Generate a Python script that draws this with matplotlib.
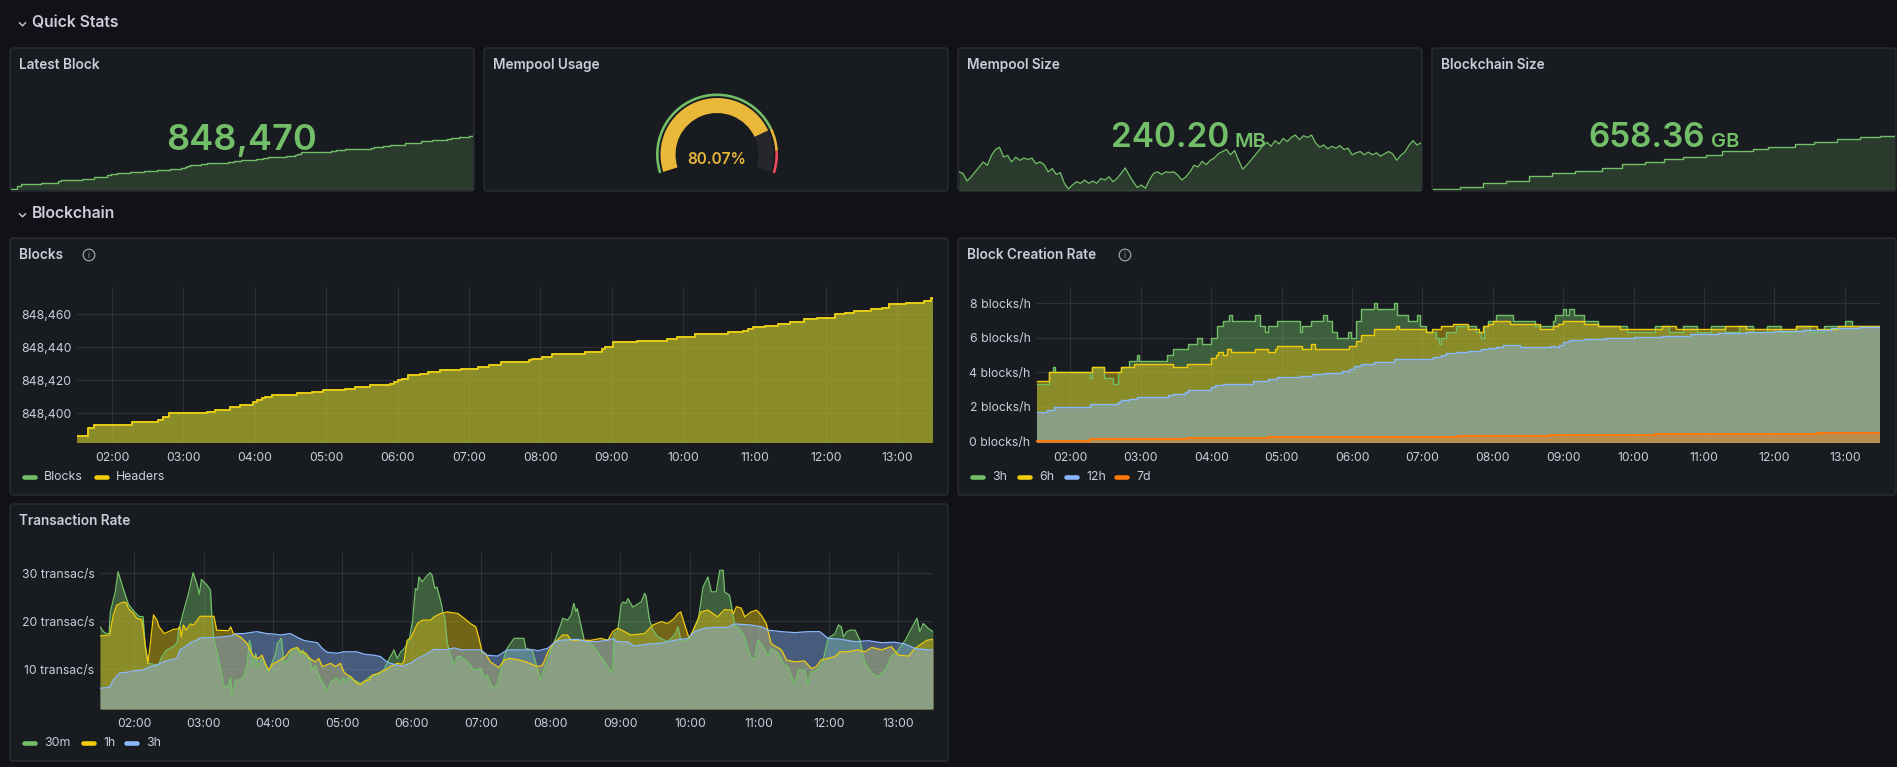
import numpy as np
import matplotlib
matplotlib.use('Agg')
import matplotlib.pyplot as plt
from matplotlib.patches import FancyBboxPatch, Wedge, Circle

W, H = 1897, 767
BG = '#111217'
PANEL = '#181b1f'
BORDER = '#2b2e34'
TEXT = '#ccccdc'
GRID = '#2e3036'
GREEN = '#73BF69'
YELLOW = '#F2CC0C'
BLUE = '#8AB8FF'
ORANGE = '#FF780A'
GAUGE_YELLOW = '#EAB839'
RED = '#F2495C'
FILL_ALPHA = 0.42

plt.rcParams['font.family'] = ['Inter', 'DejaVu Sans']

# ---- data (hours of day) ----
hours = list(range(2, 14))
hour_labels = ['%02d:00' % h for h in hours]

block_t = [1.50, 1.66, 1.75, 2.28, 2.64, 2.71, 2.80, 3.33, 3.44, 3.66, 3.79, 3.98, 4.03, 4.10, 4.15, 4.24,
           4.59, 4.80, 4.95, 5.27, 5.41, 5.61, 5.90, 5.95, 6.00, 6.06, 6.14, 6.32, 6.43, 6.59, 6.89, 7.13,
           7.28, 7.45, 7.84, 7.89, 8.02, 8.16, 8.62, 8.86, 8.90, 9.02, 9.36, 9.78, 9.92, 10.16, 10.63, 10.84,
           10.91, 10.98, 11.14, 11.33, 11.50, 11.70, 11.87, 12.13, 12.27, 12.40, 12.63, 12.79, 12.89, 13.12,
           13.37, 13.47]
block_height = [848386, 848391, 848393, 848395, 848396, 848398, 848400, 848401, 848402, 848404, 848405,
                848407, 848408, 848409, 848410, 848411, 848412, 848413, 848414, 848415, 848416, 848417,
                848418, 848419, 848420, 848421, 848423, 848424, 848425, 848426, 848427, 848428, 848429,
                848431, 848432, 848433, 848434, 848436, 848437, 848439, 848440, 848443, 848444, 848445,
                848446, 848448, 848449, 848450, 848451, 848452, 848453, 848454, 848455, 848457, 848458,
                848460, 848461, 848462, 848463, 848464, 848466, 848467, 848468, 848470]
header_height = list(block_height)

mempool_mb = [222.6, 221.6, 217.0, 219.6, 222.6, 225.6, 228.6, 226.6, 232.6, 236.2, 237.6, 231.6, 232.6,
              228.6, 231.6, 229.6, 231.0, 230.2, 231.0, 227.6, 228.6, 227.0, 222.6, 224.6, 221.0, 222.2,
              215.6, 212.2, 214.6, 216.6, 215.6, 217.6, 215.6, 217.0, 215.6, 218.6, 217.6, 219.6, 216.6,
              218.6, 221.6, 225.0, 220.6, 216.6, 213.0, 214.6, 212.6, 217.6, 221.6, 222.6, 221.0, 222.6,
              222.2, 222.6, 220.6, 217.6, 219.6, 222.6, 226.6, 225.6, 229.0, 227.0, 229.6, 231.0, 233.6,
              235.0, 236.2, 233.0, 235.6, 229.6, 224.2, 226.6, 229.6, 232.6, 235.6, 238.6, 240.6, 238.2,
              241.6, 239.6, 243.0, 241.0, 243.6, 245.0, 242.2, 244.6, 243.6, 245.0, 240.2, 237.6, 239.0,
              236.6, 238.2, 237.0, 238.6, 236.2, 237.0, 233.0, 234.2, 235.0, 233.0, 234.6, 233.0, 234.2,
              232.2, 233.6, 235.0, 233.6, 229.6, 232.6, 234.6, 238.6, 241.6, 239.0, 240.2]

chain_t = [1.5, 2.2, 2.8, 3.4, 4.0, 4.6, 5.2, 5.9, 6.4, 7.0, 7.5, 8.0, 8.6, 9.0, 9.8, 10.2, 10.9, 11.4,
           12.0, 12.6, 13.1, 13.5]
chain_gb = [658.245, 658.250, 658.258, 658.262, 658.272, 658.278, 658.283, 658.290, 658.298, 658.302,
            658.308, 658.313, 658.318, 658.326, 658.330, 658.335, 658.342, 658.346, 658.351, 658.355,
            658.358, 658.360]

mempool_usage = 80.07
usage_thresholds = [80, 90]

rate_3h = [(1.52, 3.33), (1.66, 3.33), (1.70, 4.0), (1.75, 4.33), (1.78, 4.0), (2.26, 4.0), (2.28, 3.67),
           (2.30, 4.33), (2.44, 4.33), (2.47, 3.67), (2.61, 3.33), (2.64, 3.33), (2.68, 4.0), (2.72, 4.33),
           (2.83, 4.67), (2.93, 4.67), (2.95, 5.0), (2.98, 4.67), (3.37, 5.0), (3.46, 5.33), (3.65, 5.33),
           (3.67, 5.67), (3.80, 6.0), (3.87, 5.67), (3.99, 6.0), (4.08, 6.67), (4.16, 7.0), (4.25, 7.33),
           (4.30, 7.0), (4.59, 7.0), (4.62, 7.33), (4.69, 6.67), (4.76, 6.33), (4.80, 6.67), (4.94, 7.0),
           (5.22, 7.0), (5.26, 6.33), (5.29, 6.67), (5.42, 7.0), (5.59, 7.33), (5.64, 7.0), (5.71, 6.33),
           (5.78, 6.0), (5.91, 6.0), (5.94, 6.33), (5.99, 6.0), (6.05, 7.0), (6.13, 7.67), (6.31, 8.0),
           (6.35, 7.67), (6.59, 8.0), (6.64, 7.33), (6.77, 7.33), (6.80, 7.0), (6.92, 7.33), (6.97, 6.67),
           (7.05, 6.33), (7.19, 6.0), (7.23, 5.67), (7.26, 6.0), (7.33, 6.33), (7.47, 6.67), (7.61, 6.67),
           (7.76, 6.33), (7.83, 6.0), (7.88, 6.67), (7.93, 7.0), (8.04, 7.33), (8.25, 7.33), (8.29, 7.0),
           (8.57, 7.0), (8.60, 6.67), (8.85, 7.0), (8.89, 7.33), (8.99, 7.67), (9.04, 7.33), (9.08, 7.67),
           (9.15, 7.33), (9.30, 7.0), (9.50, 6.67), (9.70, 6.67), (9.90, 6.33), (10.10, 6.33), (10.30, 6.67),
           (10.50, 6.33), (10.70, 6.67), (10.90, 6.33), (11.10, 6.67), (11.30, 6.33), (11.50, 6.67),
           (11.70, 6.33), (11.90, 6.67), (12.10, 6.33), (12.30, 6.67), (12.50, 6.33), (12.70, 6.67),
           (13.00, 7.0), (13.10, 6.67), (13.50, 6.67)]
rate_6h = [(1.52, 3.5), (1.70, 4.0), (2.30, 4.33), (2.44, 4.33), (2.47, 4.0), (2.72, 4.33), (2.90, 4.5),
           (3.39, 4.5), (3.45, 4.33), (3.65, 4.5), (4.00, 4.83), (4.07, 5.0), (4.09, 5.17), (4.16, 5.0),
           (4.22, 5.33), (4.28, 5.17), (4.62, 5.33), (4.80, 5.17), (4.90, 5.33), (4.94, 5.5), (5.29, 5.33),
           (5.42, 5.67), (5.47, 5.33), (5.96, 5.5), (6.05, 5.83), (6.13, 6.17), (6.31, 6.5), (6.62, 6.67),
           (6.67, 6.5), (7.05, 6.33), (7.14, 6.5), (7.26, 6.67), (7.43, 6.83), (7.64, 6.5), (7.80, 6.33),
           (7.86, 6.67), (7.93, 6.83), (8.00, 7.0), (8.25, 6.83), (8.67, 6.5), (8.85, 6.67), (8.92, 6.83),
           (9.00, 7.0), (9.30, 6.83), (9.50, 6.67), (9.80, 6.5), (10.40, 6.67), (10.60, 6.5), (11.30, 6.67),
           (11.60, 6.5), (12.30, 6.67), (12.60, 6.5), (12.90, 6.67), (13.50, 6.67)]
rate_12h = [(1.52, 1.71), (1.66, 1.81), (1.77, 1.96), (2.28, 2.15), (2.68, 2.25), (2.72, 2.39), (2.83, 2.48),
            (2.95, 2.55), (3.39, 2.68), (3.46, 2.75), (3.62, 2.83), (3.67, 2.97), (3.80, 3.0), (3.99, 3.12),
            (4.06, 3.25), (4.16, 3.35), (4.59, 3.49), (4.80, 3.59), (4.94, 3.7), (5.26, 3.78), (5.43, 3.9),
            (5.61, 3.97), (5.85, 4.07), (5.96, 4.22), (6.03, 4.36), (6.13, 4.46), (6.31, 4.61), (6.59, 4.75),
            (6.97, 4.8), (7.15, 4.9), (7.26, 5.0), (7.33, 5.1), (7.47, 5.19), (7.64, 5.25), (7.83, 5.33),
            (7.93, 5.43), (8.04, 5.48), (8.14, 5.58), (8.39, 5.45), (8.82, 5.5), (8.89, 5.45), (8.94, 5.58),
            (8.99, 5.77), (9.08, 5.87), (9.30, 5.92), (9.60, 5.97), (10.0, 6.05), (10.4, 6.12), (10.8, 6.2),
            (11.2, 6.3), (11.6, 6.35), (12.0, 6.4), (12.4, 6.45), (12.8, 6.55), (13.2, 6.62), (13.5, 6.7)]
rate_7d = [(1.52, 0.03), (2.28, 0.11), (3.65, 0.17), (4.80, 0.23), (6.15, 0.26), (7.50, 0.3), (8.80, 0.35),
           (10.30, 0.4), (11.40, 0.45), (12.60, 0.5), (13.50, 0.5)]

tx_30m = [(1.51, 18.8), (1.56, 17.8), (1.60, 17.4), (1.64, 17.4), (1.66, 22.0), (1.73, 26.1), (1.77, 30.3),
          (1.80, 28.9), (1.85, 26.5), (1.92, 23.5), (2.00, 22.0), (2.07, 21.0), (2.13, 20.9), (2.16, 15.0),
          (2.20, 11.2), (2.35, 10.8), (2.40, 12.6), (2.47, 14.0), (2.57, 14.7), (2.62, 15.5), (2.64, 18.0),
          (2.71, 21.9), (2.79, 26.1), (2.85, 30.1), (2.90, 28.0), (2.94, 25.6), (2.97, 28.7), (3.05, 27.5),
          (3.10, 26.5), (3.12, 20.8), (3.15, 16.0), (3.19, 14.0), (3.29, 6.7), (3.34, 6.0), (3.39, 8.1),
          (3.41, 4.6), (3.46, 7.7), (3.53, 7.7), (3.58, 8.4), (3.63, 11.2), (3.66, 16.0), (3.68, 15.0),
          (3.71, 10.5), (3.75, 13.3), (3.79, 10.5), (3.83, 12.2), (3.87, 11.5), (3.94, 9.4), (3.99, 11.5),
          (4.04, 13.3), (4.06, 15.3), (4.12, 16.4), (4.15, 12.2), (4.18, 11.2), (4.23, 12.2), (4.26, 13.6),
          (4.31, 14.0), (4.35, 14.3), (4.40, 12.9), (4.43, 14.0), (4.47, 12.6), (4.53, 12.2), (4.56, 9.8),
          (4.61, 10.8), (4.64, 9.4), (4.68, 8.1), (4.72, 7.0), (4.76, 6.0), (4.78, 5.3), (4.84, 7.4),
          (4.92, 8.1), (4.95, 7.2), (5.01, 8.1), (5.05, 7.4), (5.09, 8.4), (5.14, 7.7), (5.21, 7.4),
          (5.26, 7.0), (5.31, 7.4), (5.38, 8.3), (5.43, 8.6), (5.50, 8.75), (5.55, 9.1), (5.60, 9.9),
          (5.65, 11.5), (5.70, 12.9), (5.72, 13.3), (5.74, 14.0), (5.79, 12.2), (5.84, 13.6), (5.89, 14.3),
          (5.96, 16.0), (6.01, 20.2), (6.05, 26.8), (6.08, 26.5), (6.10, 29.2), (6.15, 28.2), (6.20, 29.2),
          (6.26, 30.1), (6.29, 29.6), (6.33, 26.8), (6.36, 27.1), (6.42, 23.8), (6.45, 21.5), (6.47, 21.0),
          (6.51, 15.3), (6.56, 12.6), (6.61, 10.8), (6.65, 12.6), (6.70, 12.6), (6.80, 11.5), (6.89, 9.8),
          (6.99, 10.1), (7.04, 8.4), (7.08, 8.8), (7.13, 7.0), (7.18, 5.8), (7.23, 7.0), (7.33, 12.6),
          (7.37, 14.3), (7.47, 16.4), (7.61, 16.4), (7.64, 14.3), (7.73, 14.0), (7.78, 11.5), (7.82, 9.1),
          (7.85, 7.7), (7.90, 9.8), (7.97, 12.6), (8.05, 15.7), (8.14, 19.2), (8.17, 20.6), (8.24, 20.2),
          (8.29, 21.2), (8.33, 23.7), (8.36, 22.0), (8.38, 22.6), (8.46, 17.4), (8.48, 16.0), (8.53, 15.7),
          (8.60, 15.0), (8.72, 12.6), (8.82, 10.5), (8.89, 9.1), (8.91, 17.4), (8.96, 17.8), (9.01, 23.3),
          (9.04, 24.0), (9.08, 23.7), (9.11, 24.7), (9.18, 22.9), (9.30, 24.0), (9.35, 25.8), (9.37, 25.2),
          (9.42, 20.2), (9.47, 18.1), (9.54, 16.7), (9.68, 15.7), (9.78, 17.1), (9.83, 18.8), (9.87, 16.0),
          (9.97, 16.0), (10.02, 17.1), (10.07, 18.8), (10.12, 20.2), (10.19, 27.1), (10.26, 29.2),
          (10.31, 26.1), (10.38, 26.1), (10.43, 30.6), (10.48, 30.6), (10.50, 26.1), (10.57, 25.4),
          (10.61, 22.3), (10.65, 18.8), (10.69, 18.8), (10.79, 16.7), (10.84, 13.9), (10.88, 12.5),
          (10.93, 11.9), (10.98, 16.0), (11.03, 15.3), (11.13, 12.6), (11.17, 14.3), (11.27, 13.3),
          (11.34, 11.2), (11.41, 10.5), (11.51, 6.7), (11.56, 9.8), (11.65, 9.8), (11.70, 6.7), (11.75, 9.5),
          (11.80, 9.5), (11.87, 10.5), (11.92, 11.9), (11.99, 16.4), (12.09, 17.4), (12.14, 19.2),
          (12.18, 18.8), (12.21, 16.7), (12.26, 17.8), (12.30, 18.1), (12.38, 18.1), (12.45, 16.0),
          (12.52, 11.2), (12.62, 9.1), (12.71, 8.4), (12.81, 9.8), (12.90, 12.6), (13.00, 14.0),
          (13.10, 16.0), (13.19, 18.5), (13.27, 20.6), (13.31, 17.8), (13.36, 19.5), (13.43, 18.5),
          (13.50, 17.8)]
tx_1h = [(1.51, 16.9), (1.65, 17.1), (1.70, 21.2), (1.75, 23.3), (1.85, 24.0), (1.89, 23.8), (1.92, 22.6),
         (1.99, 21.6), (2.04, 20.6), (2.11, 20.3), (2.13, 18.5), (2.16, 15.0), (2.20, 11.2), (2.24, 16.0),
         (2.28, 21.3), (2.33, 20.2), (2.36, 18.8), (2.40, 18.1), (2.43, 17.4), (2.50, 17.8), (2.57, 18.3),
         (2.62, 18.3), (2.66, 18.8), (2.68, 16.7), (2.71, 19.2), (2.75, 18.1), (2.81, 19.4), (2.86, 19.2),
         (2.95, 21.0), (3.00, 21.0), (3.15, 21.0), (3.19, 18.1), (3.36, 18.0), (3.39, 18.8), (3.43, 17.4),
         (3.48, 17.1), (3.53, 16.7), (3.58, 16.0), (3.63, 15.3), (3.67, 14.0), (3.72, 12.6), (3.79, 12.2),
         (3.84, 12.9), (3.91, 10.5), (3.94, 9.8), (3.99, 11.0), (4.06, 11.5), (4.13, 12.2), (4.18, 12.6),
         (4.25, 14.0), (4.30, 14.3), (4.35, 14.5), (4.40, 13.6), (4.47, 13.3), (4.53, 12.2), (4.56, 11.9),
         (4.61, 11.5), (4.66, 12.2), (4.71, 10.5), (4.76, 10.8), (4.83, 11.2), (4.90, 10.5), (4.97, 11.2),
         (5.02, 9.4), (5.07, 8.75), (5.12, 8.4), (5.21, 7.0), (5.26, 6.7), (5.31, 7.4), (5.38, 7.7),
         (5.43, 8.75), (5.50, 9.0), (5.55, 9.4), (5.62, 9.8), (5.69, 10.5), (5.79, 11.2), (5.86, 11.0),
         (5.89, 11.9), (5.93, 16.0), (5.98, 16.4), (6.08, 19.5), (6.15, 20.2), (6.27, 20.2), (6.32, 20.9),
         (6.42, 21.6), (6.51, 21.9), (6.66, 21.6), (6.75, 20.6), (6.84, 19.5), (6.92, 18.8), (6.96, 16.7),
         (7.01, 13.6), (7.06, 13.2), (7.13, 11.5), (7.25, 10.3), (7.33, 11.9), (7.40, 12.2), (7.54, 11.9),
         (7.64, 11.5), (7.81, 10.5), (7.88, 10.8), (7.96, 13.6), (8.05, 15.7), (8.09, 16.0), (8.17, 17.1),
         (8.24, 17.1), (8.29, 16.0), (8.43, 16.0), (8.58, 16.0), (8.72, 16.4), (8.82, 16.0), (8.89, 17.8),
         (8.96, 18.5), (9.06, 17.8), (9.15, 17.1), (9.35, 17.4), (9.47, 19.2), (9.59, 19.9), (9.68, 19.5),
         (9.78, 20.6), (9.83, 21.6), (9.87, 21.9), (9.92, 19.5), (9.99, 16.4), (10.04, 17.8), (10.16, 21.9),
         (10.26, 22.3), (10.40, 20.9), (10.50, 22.4), (10.60, 22.3), (10.63, 21.6), (10.67, 23.0),
         (10.74, 22.7), (10.79, 20.9), (10.88, 21.9), (10.96, 22.3), (11.03, 21.2), (11.10, 19.5),
         (11.17, 15.3), (11.32, 14.0), (11.39, 11.9), (11.51, 11.5), (11.65, 11.7), (11.75, 10.1),
         (11.82, 10.5), (11.89, 11.9), (11.99, 12.2), (12.09, 12.6), (12.16, 13.6), (12.28, 13.6),
         (12.42, 14.0), (12.52, 13.6), (12.62, 14.5), (12.76, 14.0), (12.90, 14.7), (13.00, 12.9),
         (13.15, 12.7), (13.24, 14.3), (13.41, 16.0), (13.50, 16.2)]
tx_3h = [(1.51, 6.0), (1.65, 6.2), (1.70, 7.7), (1.75, 8.5), (1.80, 9.2), (1.94, 9.4), (2.00, 9.65),
         (2.13, 9.8), (2.23, 10.5), (2.33, 10.8), (2.42, 11.5), (2.52, 11.9), (2.62, 12.2), (2.66, 14.0),
         (2.74, 14.7), (2.81, 15.5), (2.90, 16.0), (2.95, 16.5), (3.19, 16.6), (3.39, 16.9), (3.48, 17.4),
         (3.58, 17.4), (3.67, 17.6), (3.77, 17.8), (3.91, 17.4), (4.01, 17.3), (4.11, 17.1), (4.25, 17.4),
         (4.35, 16.6), (4.44, 16.0), (4.54, 15.7), (4.64, 15.5), (4.71, 14.3), (4.78, 13.5), (4.92, 13.3),
         (5.02, 13.6), (5.21, 13.6), (5.31, 13.1), (5.45, 12.9), (5.55, 12.6), (5.62, 11.7), (5.67, 11.3),
         (5.79, 10.8), (5.86, 10.6), (5.98, 11.2), (6.08, 12.2), (6.18, 12.9), (6.32, 14.1), (6.47, 14.0),
         (6.61, 14.4), (6.71, 14.0), (6.85, 14.0), (6.99, 14.0), (7.08, 12.9), (7.23, 12.7), (7.30, 13.3),
         (7.37, 14.0), (7.76, 14.0), (7.81, 13.8), (7.95, 14.3), (8.07, 15.7), (8.14, 16.0), (8.38, 16.2),
         (8.53, 15.7), (8.67, 15.7), (8.82, 16.0), (8.89, 16.4), (8.96, 15.7), (9.10, 15.7), (9.20, 14.8),
         (9.39, 15.2), (9.59, 15.4), (9.78, 16.0), (9.97, 16.4), (10.07, 17.8), (10.21, 18.5),
         (10.36, 18.7), (10.55, 18.7), (10.64, 19.4), (10.88, 19.2), (11.03, 18.8), (11.13, 18.1),
         (11.32, 17.8), (11.51, 17.6), (11.70, 17.8), (11.87, 17.8), (11.99, 16.4), (12.18, 16.2),
         (12.38, 15.7), (12.57, 15.9), (12.76, 15.5), (12.95, 15.6), (13.10, 15.2), (13.24, 14.3),
         (13.43, 14.0), (13.50, 14.0)]

T0, T1 = 1.51, 13.5

fig = plt.figure(figsize=(W / 100, H / 100), dpi=100, facecolor=BG)
cv = fig.add_axes([0, 0, 1, 1], zorder=-1)
cv.set_xlim(0, W)
cv.set_ylim(H, 0)
cv.axis('off')


def px_axes(x0, y0, x1, y1):
    return fig.add_axes([x0 / W, 1 - y1 / H, (x1 - x0) / W, (y1 - y0) / H])


def txt(x, y, s, **kw):
    kw.setdefault('color', TEXT)
    kw.setdefault('va', 'center')
    return fig.text(x / W, 1 - y / H, s, **kw)


def section(y, label):
    cv.plot([19.5, 22.5, 25.5], [y - 1.2, y + 1.8, y - 1.2], color=TEXT, lw=1.0)
    txt(32, y - 1, label, size=11.3, weight='semibold')


def panel(x0, y0, x1, y1, title, info_x=None):
    cv.add_patch(FancyBboxPatch((x0, y0), x1 - x0, y1 - y0, boxstyle='round,pad=0,rounding_size=3',
                                fc=PANEL, ec=BORDER, lw=1))
    txt(x0 + 9, y0 + 17, title, size=9.8, weight='semibold')
    if info_x is not None:
        cv.add_patch(Circle((info_x, y0 + 17), 5.8, fc='none', ec='#9fa1a8', lw=0.9))
        txt(info_x, y0 + 17.5, 'i', size=6, color='#9fa1a8', ha='center')


def ts_axes(x0, y0, x1, y1, ylim, yticks, ylabels):
    ax = px_axes(x0, y0, x1, y1)
    ax.set_facecolor('none')
    ax.set_xlim(T0, T1)
    ax.set_ylim(*ylim)
    ax.set_xticks(hours)
    ax.set_xticklabels(hour_labels)
    ax.set_yticks(yticks)
    ax.set_yticklabels(ylabels)
    for s in ax.spines.values():
        s.set_visible(False)
    ax.tick_params(length=0, colors=TEXT, labelsize=8.8)
    ax.tick_params(axis='x', pad=6.5)
    ax.tick_params(axis='y', pad=4)
    ax.grid(True, color=GRID, lw=0.8)
    ax.set_axisbelow(True)
    return ax


def series(ax, pts, color, base, step=True, lw=1.0):
    t = [p[0] for p in pts]
    v = [p[1] for p in pts]
    if step:
        ax.fill_between(t, v, base, step='post', color=color, alpha=FILL_ALPHA, lw=0)
        ax.step(t, v, where='post', color=color, lw=lw)
    else:
        ax.fill_between(t, v, base, color=color, alpha=FILL_ALPHA, lw=0)
        ax.plot(t, v, color=color, lw=lw)


def legend(y, items):
    for x0, color, label in items:
        cv.plot([x0 + 1.5, x0 + 12.5], [y, y], color=color, lw=3.3, solid_capstyle='round')
        txt(x0 + 22, y, label, size=8.9)


def sparkline(x0, x1, t, v, step=False):
    ax = px_axes(x0 + 1, 134, x1 - 1, 190)
    ax.set_facecolor('none')
    ax.axis('off')
    ax.set_xlim(min(t), max(t))
    lo, hi = min(v), max(v)
    ax.set_ylim(lo - (hi - lo) * 0.02, hi + (hi - lo) * 0.02)
    if step:
        ax.fill_between(t, v, lo - hi, step='post', color=GREEN, alpha=0.2, lw=0)
        ax.step(t, v, where='post', color=GREEN, lw=1)
    else:
        ax.fill_between(t, v, lo - hi, color=GREEN, alpha=0.2, lw=0)
        ax.plot(t, v, color=GREEN, lw=0.9)


# ---- Quick Stats ----
section(24, 'Quick Stats')
panel(10, 48, 474, 191, 'Latest Block')
panel(484, 48, 948, 191, 'Mempool Usage')
panel(958, 48, 1422, 191, 'Mempool Size')
panel(1432, 48, 1896, 191, 'Blockchain Size')

sparkline(10, 474, block_t, block_height, step=True)
txt(242, 150, '{:,}'.format(block_height[-1]), size=26, color=GREEN, ha='center', va='baseline',
    weight='semibold')

mem_t = np.linspace(T0, T1, len(mempool_mb))
sparkline(958, 1422, mem_t, mempool_mb)
txt(1229, 147, '%.2f' % mempool_mb[-1], size=24, color=GREEN, ha='right', va='baseline', weight='semibold')
txt(1235, 147, 'MB', size=14.5, color=GREEN, ha='left', va='baseline', weight='semibold')

sparkline(1432, 1896, chain_t, chain_gb, step=True)
txt(1705, 147, '%.2f' % chain_gb[-1], size=24, color=GREEN, ha='right', va='baseline', weight='semibold')
txt(1711, 147, 'GB', size=14.5, color=GREEN, ha='left', va='baseline', weight='semibold')

# gauge, angles measured clockwise in the flipped canvas
cx, cy = 717, 154.5
a_start, a_span = 198.0, 216.0


def ang(pct):
    return -(a_start - a_span * pct / 100.0)


ring = [(0, usage_thresholds[0], GREEN), (usage_thresholds[0], usage_thresholds[1], GAUGE_YELLOW),
        (usage_thresholds[1], 100, RED)]
for lo, hi, c in ring:
    cv.add_patch(Wedge((cx, cy), 61, ang(lo), ang(hi), width=2.6, fc=c, ec='none'))
cv.add_patch(Wedge((cx, cy), 56.5, ang(0), ang(mempool_usage), width=15, fc=GAUGE_YELLOW, ec='none'))
cv.add_patch(Wedge((cx, cy), 56.5, ang(mempool_usage), ang(100), width=15, fc='#26272c', ec='none'))
txt(cx, 160, '%.2f%%' % mempool_usage, size=11, color=GAUGE_YELLOW, ha='center', weight='semibold')

# ---- Blockchain ----
section(215, 'Blockchain')
panel(10, 238, 948, 495, 'Blocks', info_x=89)
panel(958, 238, 1896, 495, 'Block Creation Rate', info_x=1125)
panel(10, 504, 948, 761, 'Transaction Rate')

blk_ticks = [848400, 848420, 848440, 848460]
ax1 = ts_axes(77, 287, 933, 443, (848382, 848476.5), blk_ticks, ['{:,}'.format(v) for v in blk_ticks])
series(ax1, list(zip(block_t + [T1], block_height + [block_height[-1]])), GREEN, 848382, lw=1.3)
series(ax1, list(zip(block_t + [T1], header_height + [header_height[-1]])), YELLOW, 848382, lw=1.3)
legend(477, [(22, GREEN, 'Blocks'), (94, YELLOW, 'Headers')])

rate_ticks = [0, 2, 4, 6, 8]
ax2 = ts_axes(1036, 287, 1880, 443, (-0.1, 8.95), rate_ticks, ['%d blocks/h' % v for v in rate_ticks])
series(ax2, rate_3h, GREEN, -0.1)
series(ax2, rate_6h, YELLOW, -0.1)
series(ax2, rate_12h, BLUE, -0.1)
series(ax2, rate_7d, ORANGE, -0.1, lw=1.4)
legend(477, [(970, GREEN, '3h'), (1017, YELLOW, '6h'), (1064, BLUE, '12h'), (1114, ORANGE, '7d')])

tx_ticks = [10, 20, 30]
ax3 = ts_axes(100, 553, 933, 709, (1.67, 34.2), tx_ticks, ['%d transac/s' % v for v in tx_ticks])
series(ax3, tx_30m, GREEN, 1.67, step=False, lw=0.9)
series(ax3, tx_1h, YELLOW, 1.67, step=False, lw=0.9)
series(ax3, tx_3h, BLUE, 1.67, step=False, lw=0.9)
legend(743, [(22, GREEN, '30m'), (81, YELLOW, '1h'), (124, BLUE, '3h')])

fig.savefig('out.png', dpi=100, facecolor=BG)
